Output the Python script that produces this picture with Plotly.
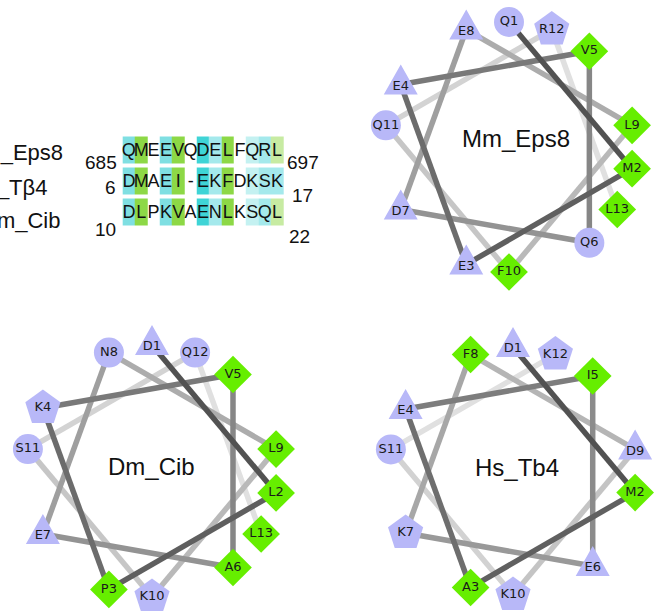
import math
import plotly.graph_objects as go

# ---- alignment block -------------------------------------------------------
align_labels = ["Mm_Eps8", "Hs_Tβ4", "Dm_Cib"]
align_seqs = ["QMEEVQDELFQRL", "DMAEI-EKFDKSK", "DLPKVAENLKSQL"]
align_start = [685, 6, 10]
align_end = [697, 17, 22]
# shading class per cell (0 = none, 1 = strong cyan, 2 = cyan, 3 = light cyan,
# 4 = pale cyan, 5 = green, 6 = pale green)
align_shade = [
    [2, 5, 0, 2, 5, 0, 1, 3, 5, 0, 4, 3, 6],
    [2, 5, 0, 2, 5, 0, 1, 3, 5, 0, 4, 3, 3],
    [2, 5, 0, 2, 5, 0, 1, 3, 5, 0, 4, 3, 6],
]
shade_colors = ["#ffffff", "#3fd4d6", "#7fdfe2", "#a4e9ec", "#c4f1f1", "#8dd846", "#c7eba2"]

# ---- helical wheels --------------------------------------------------------
wheel_names = ["Mm_Eps8", "Dm_Cib", "Hs_Tb4"]
wheel_seqs = ["QMEEVQDELFQRL", "DLPKVAENLKSQL", "DMAEIEKFDKSK"]

# layout of the wheels (pixel space)
wheel_centers = [(509, 147), (152, 471), (513, 471)]
wheel_radius = [125, 126, 124]
title_pos = [(516, 138), (151, 466), (517, 467)]
STEP_DEG = 100.0

HYDROPHOBIC = set("ACFGILMPVWY")
ACIDIC = set("DE")
BASIC = set("KRH")
GREEN = "#66ee00"
LAVENDER = "#b8b8f8"

fig = go.Figure()

# alignment shading as a heatmap of cell classes
col_w = 12.35
x0 = 122.7
row_y = [150, 181, 212]
xs = [x0 + col_w * (k + 0.5) for k in range(13)]
z = [[(v if v > 0 else None) for v in row] for row in align_shade]
nsh = len(shade_colors)
cscale = [[i / (nsh - 1), c] for i, c in enumerate(shade_colors)]
fig.add_trace(go.Heatmap(
    x=xs, y=row_y, z=z, zmin=0, zmax=nsh - 1, colorscale=cscale,
    showscale=False, xgap=0, ygap=4, hoverinfo="skip",
))

# alignment letters
lx, ly, lt = [], [], []
for r, seq in enumerate(align_seqs):
    for k, ch in enumerate(seq):
        lx.append(xs[k])
        ly.append(row_y[r] + 1)
        lt.append(ch)
fig.add_trace(go.Scatter(
    x=lx, y=ly, text=lt, mode="text", hoverinfo="skip",
    textfont=dict(family="Liberation Sans, Arial", size=18, color="#111111"),
))

# row labels and residue numbers
label_pos = [(65, 152), (49, 187), (62, 220)]
start_pos = [(119, 162), (118, 187), (118, 229)]
end_pos = [(285, 162), (290, 195), (287, 236)]
for i in range(3):
    fig.add_annotation(x=label_pos[i][0], y=label_pos[i][1], text=align_labels[i],
                       xanchor="right", yanchor="middle", showarrow=False,
                       font=dict(family="Liberation Sans, Arial", size=22, color="#111111"))
    fig.add_annotation(x=start_pos[i][0], y=start_pos[i][1], text=str(align_start[i]),
                       xanchor="right", yanchor="middle", showarrow=False,
                       font=dict(family="Liberation Sans, Arial", size=19, color="#111111"))
    fig.add_annotation(x=end_pos[i][0], y=end_pos[i][1], text=str(align_end[i]),
                       xanchor="left", yanchor="middle", showarrow=False,
                       font=dict(family="Liberation Sans, Arial", size=19, color="#111111"))


def residue_xy(center, radius, idx):
    ang = math.radians(idx * STEP_DEG)
    return center[0] + radius * math.sin(ang), center[1] - radius * math.cos(ang)


def gray(level):
    v = int(round(level))
    return f"rgb({v},{v},{v})"


wheel_points = []
for w, seq in enumerate(wheel_seqs):
    pts = [residue_xy(wheel_centers[w], wheel_radius[w], i) for i in range(len(seq))]
    wheel_points.append(pts)

# connecting segments: light ones first so darker ones sit on top
for w, seq in enumerate(wheel_seqs):
    pts = wheel_points[w]
    nseg = len(seq) - 1
    for s in reversed(range(nseg)):
        lvl = 82 + (224 - 82) * s / (nseg - 1)
        fig.add_trace(go.Scatter(
            x=[pts[s][0], pts[s + 1][0]], y=[pts[s][1], pts[s + 1][1]],
            mode="lines", line=dict(color=gray(lvl), width=5.5),
            hoverinfo="skip",
        ))

# residue markers
tri_x, tri_y = [], []
groups = {"circle": ([], []), "diamond": ([], []), "pentagon": ([], [])}
gcolor = {"circle": LAVENDER, "diamond": GREEN, "pentagon": LAVENDER}
gsize = {"circle": 30, "diamond": 29, "pentagon": 37}
tx, ty, tt = [], [], []
for w, seq in enumerate(wheel_seqs):
    for i, aa in enumerate(seq):
        x, y = wheel_points[w][i]
        if aa in ACIDIC:
            # triangle around its centroid
            tri_x += [x, x + 17, x - 17, x, None]
            tri_y += [y - 20, y + 10, y + 10, y - 20, None]
        elif aa in BASIC:
            groups["pentagon"][0].append(x)
            groups["pentagon"][1].append(y)
        elif aa in HYDROPHOBIC:
            groups["diamond"][0].append(x)
            groups["diamond"][1].append(y)
        else:
            groups["circle"][0].append(x)
            groups["circle"][1].append(y)
        tx.append(x)
        ty.append(y + (2 if aa in ACIDIC else 0))
        tt.append(f"{aa}{i + 1}")

fig.add_trace(go.Scatter(
    x=tri_x, y=tri_y, mode="lines", fill="toself", fillcolor=LAVENDER,
    line=dict(width=0, color=LAVENDER), hoverinfo="skip",
))
for sym, (gx, gy) in groups.items():
    fig.add_trace(go.Scatter(
        x=gx, y=gy, mode="markers", hoverinfo="skip",
        marker=dict(symbol=sym, size=gsize[sym], color=gcolor[sym], line=dict(width=0)),
    ))
fig.add_trace(go.Scatter(
    x=tx, y=ty, text=tt, mode="text", hoverinfo="skip",
    textfont=dict(family="DejaVu Sans", size=13, color="#1a1a1a"),
))

for w, name in enumerate(wheel_names):
    fig.add_annotation(x=title_pos[w][0], y=title_pos[w][1], text=name, showarrow=False,
                       xanchor="center", yanchor="middle",
                       font=dict(family="Liberation Sans, Arial", size=24, color="#111111"))

fig.update_layout(
    width=657, height=611, autosize=False,
    margin=dict(l=0, r=0, t=0, b=0),
    paper_bgcolor="white", plot_bgcolor="white",
    showlegend=False,
    xaxis=dict(range=[0, 657], visible=False, fixedrange=True),
    yaxis=dict(range=[611, 0], visible=False, fixedrange=True),
)

fig.write_html("out.html")
